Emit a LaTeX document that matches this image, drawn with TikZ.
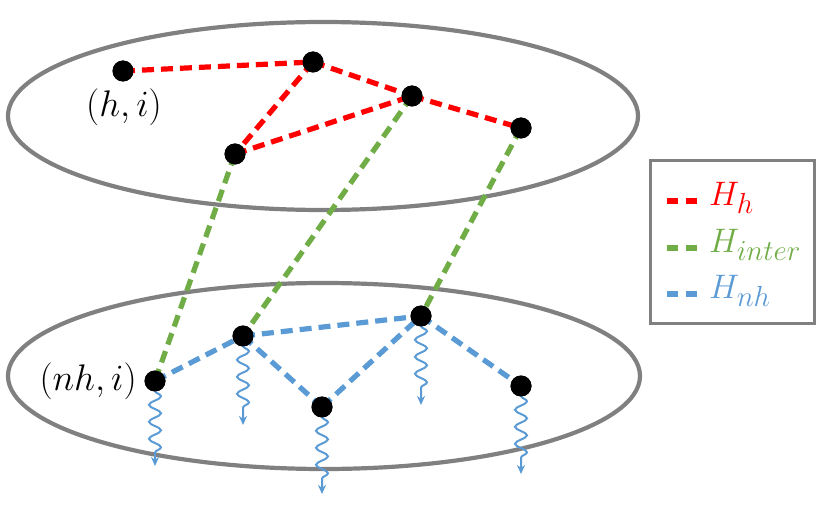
\RequirePackage{fix-cm}
\documentclass[tikz,border=0pt]{standalone}
\usetikzlibrary{decorations.pathmorphing,arrows.meta}
\definecolor{ringgray}{RGB}{128,128,128}
\definecolor{hred}{RGB}{255,0,0}
\definecolor{hgreen}{RGB}{112,173,71}
\definecolor{hblue}{RGB}{91,155,213}
\newcommand\bigsub[1]{_{\mbox{\fontsize{29}{31}\selectfont$#1$}}}
\begin{document}
\begin{tikzpicture}[x=1pt,y=-1pt,
  ring/.style={draw=ringgray,line width=4.2pt},
  dot/.style={circle,fill=black,inner sep=0pt,minimum size=21pt},
  edgedash/.style={line width=5.2pt,dash pattern=on 12pt off 7pt},
  redge/.style={edgedash,draw=hred},
  gedge/.style={edgedash,draw=hgreen},
  bedge/.style={edgedash,draw=hblue},
  wave/.style={draw=hblue,line width=2pt,-{Stealth[length=9pt,width=8pt]},
    decorate,decoration={snake,segment length=17pt,amplitude=6pt,pre length=10pt,post length=10pt}},
  lbl/.style={font=\fontsize{37}{40}\selectfont,inner sep=0pt},
  leg/.style={font=\fontsize{34}{38}\selectfont,inner sep=0pt,anchor=west}
]
\useasboundingbox (0,0) rectangle (831,508);
\draw[ring] (323,116) ellipse [x radius=315, y radius=94];
\draw[ring] (324,376) ellipse [x radius=316, y radius=93];
% top nodes
\node[dot] (A) at (123,71) {};
\node[dot] (B) at (313,62) {};
\node[dot] (C) at (412,96) {};
\node[dot] (D) at (521,128) {};
\node[dot] (E) at (235,154) {};
% bottom nodes
\node[dot] (F) at (155,381) {};
\node[dot] (G) at (243,336) {};
\node[dot] (H) at (421,316) {};
\node[dot] (I) at (322,407) {};
\node[dot] (J) at (521,386) {};
% wave end points
\coordinate (Fw) at (155,466);
\coordinate (Gw) at (243,425);
\coordinate (Hw) at (421,405);
\coordinate (Iw) at (322,494);
\coordinate (Jw) at (521,474);
% edges
\draw[gedge] (E.center) -- (F.center);
\draw[gedge] (C.center) -- (G.center);
\draw[gedge] (D.center) -- (H.center);
\draw[redge] (A.center) -- (B.center);
\draw[redge] (B.center) -- (C.center);
\draw[redge] (C.center) -- (D.center);
\draw[redge] (B.center) -- (E.center);
\draw[redge] (E.center) -- (C.center);
\draw[bedge] (F.center) -- (G.center);
\draw[bedge] (G.center) -- (H.center);
\draw[bedge] (G.center) -- (I.center);
\draw[bedge] (I.center) -- (H.center);
\draw[bedge] (H.center) -- (J.center);
\draw[wave] (F.center) -- (Fw);
\draw[wave] (G.center) -- (Gw);
\draw[wave] (H.center) -- (Hw);
\draw[wave] (I.center) -- (Iw);
\draw[wave] (J.center) -- (Jw);
% redraw dots on top
\foreach \n in {A,B,C,D,E,F,G,H,I,J} \fill[black] (\n) circle (10.5pt);
% labels
\node[lbl] (hl) at (124,107) {$(h,i)$};
\node[lbl,anchor=east] (nhl) at (137,381) {$(nh,i)$};
% legend
\node[draw=ringgray,line width=3pt,minimum width=164pt,minimum height=163pt,inner sep=0pt] (box) at (732.5,242) {};
\coordinate (r1) at (667,201);
\coordinate (r2) at (698,201);
\coordinate (g1) at (667,248);
\coordinate (g2) at (698,248);
\coordinate (b1) at (667,294);
\coordinate (b2) at (698,294);
\draw[redge,dash pattern=on 11pt off 8pt] (r1) -- (r2);
\draw[gedge,dash pattern=on 11pt off 8pt] (g1) -- (g2);
\draw[bedge,dash pattern=on 11pt off 8pt] (b1) -- (b2);
\node[leg,text=hred] (lh) at (709,198) {$H\bigsub{h}$};
\node[leg,text=hgreen] (li) at (709,245) {$H\bigsub{inter}$};
\node[leg,text=hblue] (ln) at (709,291) {$H\bigsub{nh}$};
\end{tikzpicture}
\end{document}
